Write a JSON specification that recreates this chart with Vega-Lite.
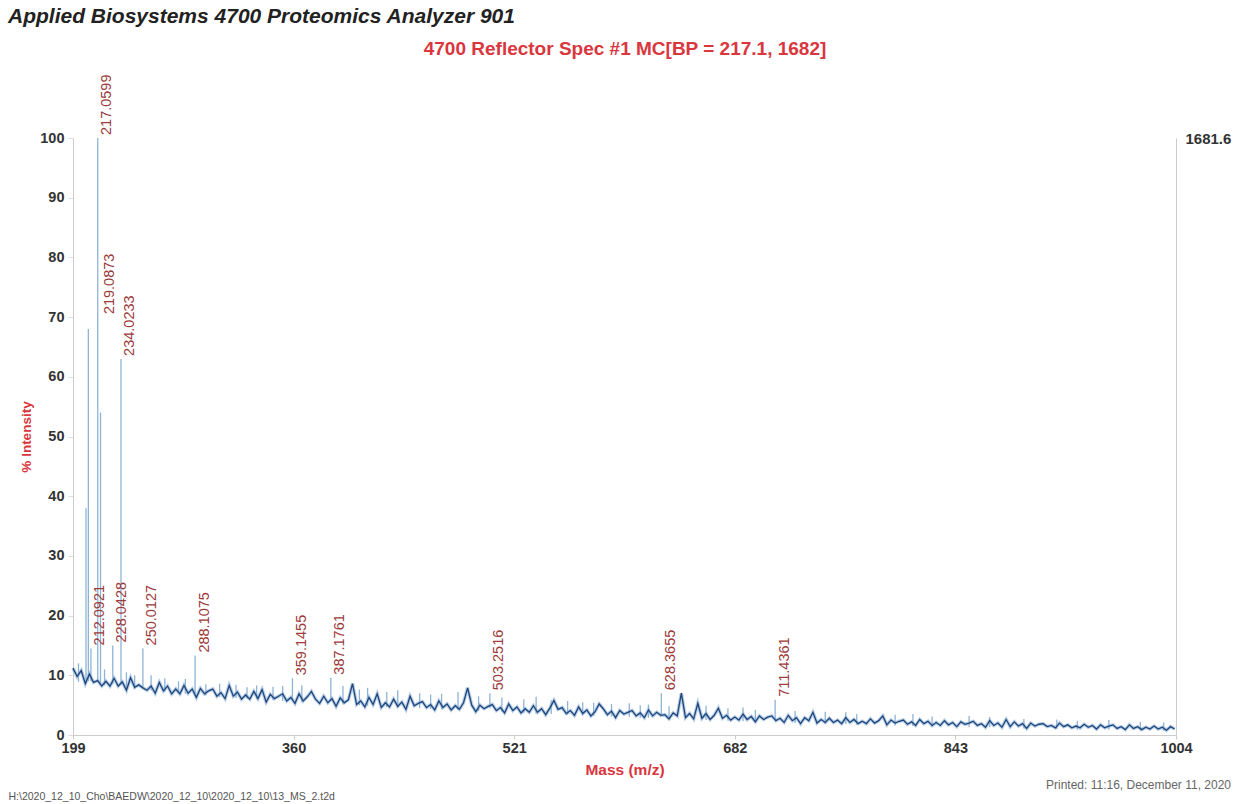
{
"$schema":"https://vega.github.io/schema/vega-lite/v6.json",
"width":1103,"height":597,
"autosize":{"type":"none"},
"padding":{"left":73,"top":138,"right":66,"bottom":69},
"background":"white",
"config":{"view":{"stroke":null},"font":"Liberation Sans"},
"title":{"text":"Applied Biosystems 4700 Proteomics Analyzer 901","anchor":"start","frame":"group","dx":-65,"offset":12,"font":"Liberation Sans","fontSize":21,"fontWeight":"bold","fontStyle":"italic","color":"#222222"},
"datasets":{
"spectrum":[
{"m":199,"i":11.2},{"m":202,"i":9.8},{"m":205,"i":10.8},{"m":208,"i":8.6},{"m":211,"i":10.2},{"m":214,"i":8.8},{"m":217,"i":9.1},{"m":220,"i":8.2},{"m":223,"i":9.0},{"m":226,"i":8.2},{"m":229,"i":9.5},{"m":232,"i":8.2},{"m":235,"i":8.9},{"m":238,"i":7.5},{"m":241,"i":9.6},{"m":244,"i":8.0},{"m":247,"i":8.4},{"m":250,"i":7.9},
{"m":253,"i":7.5},{"m":256,"i":8.2},{"m":259,"i":7.0},{"m":262,"i":8.8},{"m":265,"i":7.4},{"m":268,"i":8.2},{"m":271,"i":6.9},{"m":274,"i":7.7},{"m":277,"i":6.9},{"m":280,"i":8.3},{"m":283,"i":7.0},{"m":286,"i":7.7},{"m":289,"i":6.3},{"m":292,"i":7.8},{"m":295,"i":6.9},{"m":298,"i":7.4},
{"m":301,"i":7.7},{"m":304,"i":6.5},{"m":307,"i":7.1},{"m":310,"i":6.1},{"m":313,"i":8.3},{"m":316,"i":6.5},{"m":319,"i":7.2},{"m":322,"i":6.0},{"m":325,"i":6.7},{"m":328,"i":6.0},{"m":331,"i":7.3},{"m":334,"i":6.1},{"m":337,"i":7.6},{"m":340,"i":5.5},{"m":343,"i":6.8},{"m":346,"i":6.1},{"m":349,"i":6.5},{"m":352,"i":6.9},{"m":355,"i":5.7},{"m":358,"i":6.3},
{"m":361,"i":5.3},{"m":364,"i":6.9},{"m":367,"i":5.7},{"m":370,"i":6.4},{"m":373,"i":7.3},{"m":376,"i":6.0},{"m":379,"i":5.3},{"m":382,"i":6.5},{"m":385,"i":5.4},{"m":388,"i":6.1},{"m":391,"i":4.8},{"m":394,"i":6.2},{"m":397,"i":5.4},{"m":400,"i":5.9},{"m":403,"i":8.6},{"m":406,"i":5.1},{"m":409,"i":5.7},{"m":412,"i":4.7},{"m":415,"i":6.3},{"m":418,"i":5.1},
{"m":421,"i":6.9},{"m":424,"i":4.6},{"m":427,"i":5.4},{"m":430,"i":4.7},{"m":433,"i":6.0},{"m":436,"i":4.8},{"m":439,"i":5.5},{"m":442,"i":4.3},{"m":445,"i":6.5},{"m":448,"i":4.9},{"m":451,"i":5.3},{"m":454,"i":5.6},{"m":457,"i":4.6},{"m":460,"i":5.1},{"m":463,"i":4.2},{"m":466,"i":5.7},{"m":469,"i":4.6},{"m":472,"i":5.2},{"m":475,"i":4.2},{"m":478,"i":4.9},
{"m":481,"i":4.3},{"m":484,"i":5.4},{"m":487,"i":7.9},{"m":490,"i":5.0},{"m":493,"i":3.9},{"m":496,"i":5.0},{"m":499,"i":4.4},{"m":502,"i":4.8},{"m":505,"i":5.1},{"m":508,"i":4.1},{"m":511,"i":4.6},{"m":514,"i":3.7},{"m":517,"i":5.2},{"m":520,"i":4.1},{"m":523,"i":4.7},{"m":526,"i":3.7},{"m":529,"i":4.4},{"m":532,"i":3.8},{"m":535,"i":4.9},{"m":538,"i":3.8},
{"m":541,"i":4.4},{"m":544,"i":3.4},{"m":547,"i":4.5},{"m":550,"i":5.8},{"m":553,"i":4.3},{"m":556,"i":4.6},{"m":559,"i":3.6},{"m":562,"i":4.1},{"m":565,"i":3.3},{"m":568,"i":4.7},{"m":571,"i":3.6},{"m":574,"i":4.2},{"m":577,"i":3.2},{"m":580,"i":3.9},{"m":583,"i":5.2},{"m":586,"i":4.4},{"m":589,"i":3.4},{"m":592,"i":4.0},{"m":595,"i":2.9},{"m":598,"i":4.1},
{"m":601,"i":3.5},{"m":604,"i":3.8},{"m":607,"i":4.1},{"m":610,"i":3.2},{"m":613,"i":3.7},{"m":616,"i":2.9},{"m":619,"i":4.2},{"m":622,"i":3.2},{"m":625,"i":3.8},{"m":628,"i":3.3},{"m":631,"i":3.4},{"m":634,"i":2.7},{"m":637,"i":3.7},{"m":640,"i":3.2},{"m":643,"i":7.0},{"m":646,"i":2.9},{"m":649,"i":3.6},{"m":652,"i":2.7},{"m":655,"i":5.3},{"m":658,"i":2.8},
{"m":661,"i":3.6},{"m":664,"i":2.6},{"m":667,"i":3.3},{"m":670,"i":4.5},{"m":673,"i":2.8},{"m":676,"i":3.3},{"m":679,"i":2.5},{"m":682,"i":3.0},{"m":685,"i":2.5},{"m":688,"i":3.5},{"m":691,"i":2.6},{"m":694,"i":3.1},{"m":697,"i":2.2},{"m":700,"i":3.2},{"m":703,"i":2.6},{"m":706,"i":3.0},{"m":709,"i":3.2},{"m":712,"i":2.4},{"m":715,"i":2.8},{"m":718,"i":2.1},
{"m":721,"i":3.3},{"m":724,"i":2.4},{"m":727,"i":2.9},{"m":730,"i":1.9},{"m":733,"i":2.9},{"m":736,"i":2.4},{"m":739,"i":3.8},{"m":742,"i":2.0},{"m":745,"i":2.6},{"m":748,"i":2.1},{"m":751,"i":2.8},{"m":754,"i":2.1},{"m":757,"i":2.5},{"m":760,"i":1.9},{"m":763,"i":2.9},{"m":766,"i":2.1},{"m":769,"i":2.6},{"m":772,"i":1.9},{"m":775,"i":2.3},{"m":778,"i":1.9},
{"m":781,"i":2.7},{"m":784,"i":2.0},{"m":787,"i":2.4},{"m":790,"i":3.2},{"m":793,"i":1.7},{"m":796,"i":2.5},{"m":799,"i":2.0},{"m":802,"i":2.3},{"m":805,"i":2.5},{"m":808,"i":1.8},{"m":811,"i":2.2},{"m":814,"i":1.6},{"m":817,"i":2.6},{"m":820,"i":1.9},{"m":823,"i":2.3},{"m":826,"i":1.6},{"m":829,"i":2.1},{"m":832,"i":1.6},{"m":835,"i":2.4},{"m":838,"i":1.7},
{"m":841,"i":2.1},{"m":844,"i":1.4},{"m":847,"i":2.2},{"m":850,"i":1.8},{"m":853,"i":2.0},{"m":856,"i":2.3},{"m":859,"i":1.6},{"m":862,"i":1.9},{"m":865,"i":1.3},{"m":868,"i":2.4},{"m":871,"i":1.6},{"m":874,"i":2.0},{"m":877,"i":1.3},{"m":880,"i":2.6},{"m":883,"i":1.4},{"m":886,"i":2.2},{"m":889,"i":1.5},{"m":892,"i":1.9},{"m":895,"i":1.1},{"m":898,"i":2.0},
{"m":901,"i":1.5},{"m":904,"i":1.8},{"m":907,"i":1.9},{"m":910,"i":1.4},{"m":913,"i":1.6},{"m":916,"i":1.2},{"m":919,"i":2.0},{"m":922,"i":1.4},{"m":925,"i":1.7},{"m":928,"i":1.2},{"m":931,"i":1.5},{"m":934,"i":1.2},{"m":937,"i":1.8},{"m":940,"i":1.3},{"m":943,"i":1.6},{"m":946,"i":1.0},{"m":949,"i":1.7},{"m":952,"i":1.2},{"m":955,"i":1.5},{"m":958,"i":1.7},
{"m":961,"i":1.1},{"m":964,"i":1.4},{"m":967,"i":0.9},{"m":970,"i":1.7},{"m":973,"i":1.1},{"m":976,"i":1.4},{"m":979,"i":0.9},{"m":982,"i":1.3},{"m":985,"i":1.0},{"m":988,"i":1.5},{"m":991,"i":1.0},{"m":994,"i":1.3},{"m":997,"i":0.8},{"m":1000,"i":1.4},{"m":1003,"i":1.0}
],
"peaks":[
{"m":208.5,"i":38,"b":8.6},{"m":210.2,"i":68,"b":9},{"m":212.0921,"i":14.5,"b":9},{"m":217.0599,"i":100,"b":9},{"m":219.0873,"i":54,"b":8.5},{"m":228.0428,"i":15,"b":8.5},{"m":234.0233,"i":63,"b":8.4},{"m":250.0127,"i":14.5,"b":7.9},{"m":288.1075,"i":13.3,"b":7},{"m":359.1455,"i":9.5,"b":6},{"m":387.1761,"i":9.6,"b":5.7},{"m":503.2516,"i":7.0,"b":4.5},{"m":628.3655,"i":7.0,"b":3.3},{"m":711.4361,"i":5.9,"b":2.6},
{"m":203,"i":12,"b":8.9},{"m":222,"i":11,"b":8.3},{"m":238,"i":10.5,"b":7.8},{"m":244,"i":10,"b":7.7},{"m":256,"i":10,"b":7.5},{"m":266,"i":9.5,"b":7.2},{"m":276,"i":9,"b":7.0},{"m":281,"i":9.4,"b":6.9},{"m":296,"i":8.5,"b":6.6},{"m":306,"i":8.6,"b":6.4},{"m":318,"i":8.4,"b":6.2},{"m":326,"i":8,"b":6.1},{"m":333,"i":8.3,"b":6.0},{"m":345,"i":8.1,"b":5.8},{"m":352,"i":8.2,"b":5.7},{"m":366,"i":8.3,"b":5.5},{"m":396,"i":8.2,"b":5.1},{"m":408,"i":7.6,"b":5.0},{"m":414,"i":7.9,"b":4.9},{"m":428,"i":7.2,"b":4.7},{"m":436,"i":7.5,"b":4.6},{"m":452,"i":7.0,"b":4.5},{"m":460,"i":6.8,"b":4.4},{"m":468,"i":6.9,"b":4.3},{"m":480,"i":7.2,"b":4.2},{"m":495,"i":6.5,"b":4.0},{"m":512,"i":6.3,"b":3.9},{"m":528,"i":6.0,"b":3.7},{"m":537,"i":6.4,"b":3.6},{"m":548,"i":5.8,"b":3.5},{"m":560,"i":5.7,"b":3.4},{"m":571,"i":5.5,"b":3.3},{"m":579,"i":5.4,"b":3.2},{"m":592,"i":5.2,"b":3.1},{"m":605,"i":5.3,"b":3.0},{"m":613,"i":5.0,"b":2.9},{"m":619,"i":5.1,"b":2.9},{"m":634,"i":4.8,"b":2.7},{"m":661,"i":4.9,"b":2.5},{"m":677,"i":4.5,"b":2.4},{"m":688,"i":4.6,"b":2.3},{"m":697,"i":4.2,"b":2.2},{"m":726,"i":4.0,"b":2.0},{"m":748,"i":3.9,"b":1.9},{"m":763,"i":3.8,"b":1.8},{"m":771,"i":3.5,"b":1.7},{"m":799,"i":3.4,"b":1.6},{"m":812,"i":3.5,"b":1.5},{"m":826,"i":3.1,"b":1.4},{"m":853,"i":3.2,"b":1.3},{"m":868,"i":3.0,"b":1.3},{"m":893,"i":2.7,"b":1.1},{"m":917,"i":2.6,"b":1.0},{"m":932,"i":2.4,"b":0.9},{"m":955,"i":2.5,"b":0.9},{"m":978,"i":2.2,"b":0.8},{"m":995,"i":2.1,"b":0.7}
],
"labels":[
{"m":212.0921,"i":14.5,"t":"212.0921"},{"m":217.0599,"i":100,"t":"217.0599"},{"m":219.0873,"i":70,"t":"219.0873"},{"m":228.0428,"i":15,"t":"228.0428"},{"m":234.0233,"i":63,"t":"234.0233"},{"m":250.0127,"i":14.5,"t":"250.0127"},{"m":288.1075,"i":13.3,"t":"288.1075"},{"m":359.1455,"i":9.5,"t":"359.1455"},{"m":387.1761,"i":9.6,"t":"387.1761"},{"m":503.2516,"i":7.0,"t":"503.2516"},{"m":628.3655,"i":7.0,"t":"628.3655"},{"m":711.4361,"i":5.9,"t":"711.4361"}
],
"counts":[{"m":199,"c":0},{"m":1004,"c":1681.6}]
},
"resolve":{"scale":{"y":"independent"},"axis":{"x":"independent","y":"independent"}},
"layer":[
{"data":{"name":"peaks"},
 "mark":{"type":"rule","color":"#8fb3d6","strokeWidth":1.3},
 "encoding":{
  "x":{"field":"m","type":"quantitative","scale":{"domain":[199,1004],"nice":false,"zero":false},"axis":null},
  "y":{"field":"i","type":"quantitative","scale":{"domain":[0,100],"nice":false,"zero":true},"axis":null},
  "y2":{"field":"b"}
 }},
{"data":{"name":"spectrum"},
 "mark":{"type":"line","color":"#7aa6d6","strokeWidth":3.5,"opacity":0.55},
 "encoding":{
  "x":{"field":"m","type":"quantitative","scale":{"domain":[199,1004],"nice":false,"zero":false},"axis":null},
  "y":{"field":"i","type":"quantitative","scale":{"domain":[0,100],"nice":false,"zero":true},"axis":null}
 }},
{"data":{"name":"spectrum"},
 "mark":{"type":"line","color":"#1e4478","strokeWidth":1.3},
 "encoding":{
  "x":{"field":"m","type":"quantitative","scale":{"domain":[199,1004],"nice":false,"zero":false},
       "axis":{"orient":"bottom","values":[199,360,521,682,843,1004],"format":"d","labelFlush":false,"grid":false,"labelFont":"Liberation Sans","labelFontWeight":"bold","labelFontSize":14.5,"labelColor":"#333333","labelPadding":2,"tickSize":4,"tickColor":"#cccccc","domainColor":"#cccccc","title":"Mass (m/z)","titleFont":"Liberation Sans","titleFontSize":15.5,"titleFontWeight":"bold","titleColor":"#d9363e","titlePadding":8}},
  "y":{"field":"i","type":"quantitative","scale":{"domain":[0,100],"nice":false,"zero":true},
       "axis":{"orient":"left","values":[0,10,20,30,40,50,60,70,80,90,100],"labelFlush":false,"grid":false,"labelFont":"Liberation Sans","labelFontWeight":"bold","labelFontSize":14.5,"labelColor":"#333333","labelPadding":4,"tickSize":5,"tickColor":"#dddddd","domainColor":"#cccccc","title":"% Intensity","titleFont":"Liberation Sans","titleFontSize":13.5,"titleFontWeight":"bold","titleColor":"#d9363e","titlePadding":6}}
 }},
{"data":{"name":"labels"},
 "mark":{"type":"text","angle":270,"align":"left","baseline":"middle","dx":3,"dy":9.5,"font":"Liberation Sans","fontSize":14.5,"color":"#9c3b3b"},
 "encoding":{
  "x":{"field":"m","type":"quantitative","scale":{"domain":[199,1004],"nice":false,"zero":false},
       "axis":{"orient":"bottom","labels":false,"ticks":false,"domain":false,"grid":false,"title":"H:\\2020_12_10_Cho\\BAEDW\\2020_12_10\\2020_12_10\\13_MS_2.t2d","titleX":-65,"titleY":64,"titleAlign":"left","titleBaseline":"alphabetic","titleFont":"Liberation Sans","titleFontSize":10.5,"titleFontWeight":"normal","titleColor":"#555555"}},
  "y":{"field":"i","type":"quantitative","scale":{"domain":[0,100],"nice":false,"zero":true},"axis":null},
  "text":{"field":"t","type":"nominal"}
 }},
{"data":{"name":"counts"},
 "mark":{"type":"point","opacity":0},
 "encoding":{
  "x":{"field":"m","type":"quantitative","scale":{"domain":[199,1004],"nice":false,"zero":false},
       "axis":{"orient":"top","labels":false,"ticks":false,"domain":false,"grid":false,"title":"4700 Reflector Spec #1 MC[BP = 217.1, 1682]","titleY":-84,"titleBaseline":"alphabetic","titleFont":"Liberation Sans","titleFontSize":19,"titleFontWeight":"bold","titleColor":"#d9363e"}},
  "y":{"field":"c","type":"quantitative","scale":{"domain":[0,1681.6],"nice":false,"zero":true},
       "axis":{"orient":"right","values":[1681.6],"format":".1f","grid":false,"ticks":false,"labelFont":"Liberation Sans","labelFontWeight":"bold","labelFontSize":15,"labelColor":"#333333","labelPadding":9,"domainColor":"#cccccc","title":"Printed: 11:16, December 11, 2020","titleAngle":0,"titleX":-38,"titleY":650,"titleAlign":"center","titleBaseline":"alphabetic","titleFont":"Liberation Sans","titleFontSize":12,"titleFontWeight":"normal","titleColor":"#666666"}}
 }}
]
}
